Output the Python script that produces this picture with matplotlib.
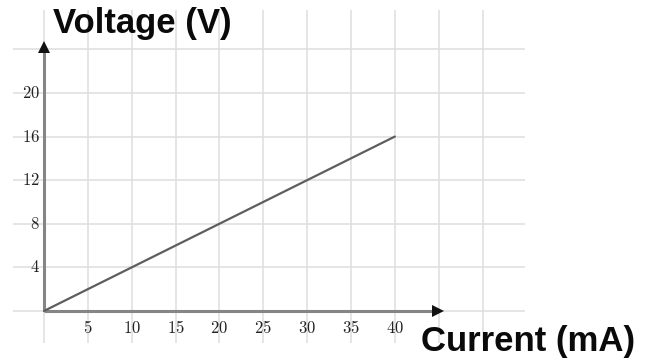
import matplotlib
matplotlib.use("Agg")
import matplotlib.pyplot as plt

# Data
current_ma = [0, 40]
voltage_v = [0, 16]
x_ticks = [5, 10, 15, 20, 25, 30, 35, 40]
y_ticks = [4, 8, 12, 16, 20]
x_grid = [5, 10, 15, 20, 25, 30, 35, 40, 45, 50]
y_grid = [0, 4, 8, 12, 16, 20, 24]

plt.rcParams['mathtext.fontset'] = 'cm'

fig = plt.figure(figsize=(6.49, 3.60), dpi=100)
ax = fig.add_axes([0, 0, 1, 1])
ax.set_xlim(-5.02, 68.98)
ax.set_ylim(-4.50, 28.53)
ax.axis('off')

grid_c = '#e0e0e0'
ax.vlines(x_grid + [0], -2.9, 27.6, colors=grid_c, lw=1.2, zorder=1)
ax.hlines(y_grid, -3.5, 54.8, colors=grid_c, lw=1.2, zorder=1)

axis_c = '#858585'
ax.plot([0, 0], [0, 23.9], color=axis_c, lw=2.2, zorder=3, solid_capstyle='butt')
ax.plot([0, 44.8], [0, 0], color=axis_c, lw=2.2, zorder=3, solid_capstyle='butt')
ax.plot([0], [24.2], marker='^', color='#111111', markersize=9, zorder=4, markeredgewidth=0)
ax.plot([44.9], [0], marker='>', color='#111111', markersize=9, zorder=4, markeredgewidth=0)

ax.plot(current_ma, voltage_v, color='#5e5e5e', lw=1.6, zorder=5, solid_capstyle='round')

for t in y_ticks:
    ax.text(-0.5, t, f'${t}$', ha='right', va='center', fontsize=12, color='#222222', zorder=6)
for t in x_ticks:
    ax.text(t, -1.6, f'${t}$', ha='center', va='center', fontsize=12, color='#222222', zorder=6)

ax.text(53 / 649, 1 - 33 / 360, 'Voltage (V)', transform=fig.transFigure, fontsize=25,
        fontweight='bold', family='Liberation Sans', color='#0a0a0a', ha='left', va='baseline')
ax.text(421 / 649, 1 - 351 / 360, 'Current (mA)', transform=fig.transFigure, fontsize=25,
        fontweight='bold', family='Liberation Sans', color='#0a0a0a', ha='left', va='baseline')

fig.savefig('out.png', dpi=100, facecolor='white')
